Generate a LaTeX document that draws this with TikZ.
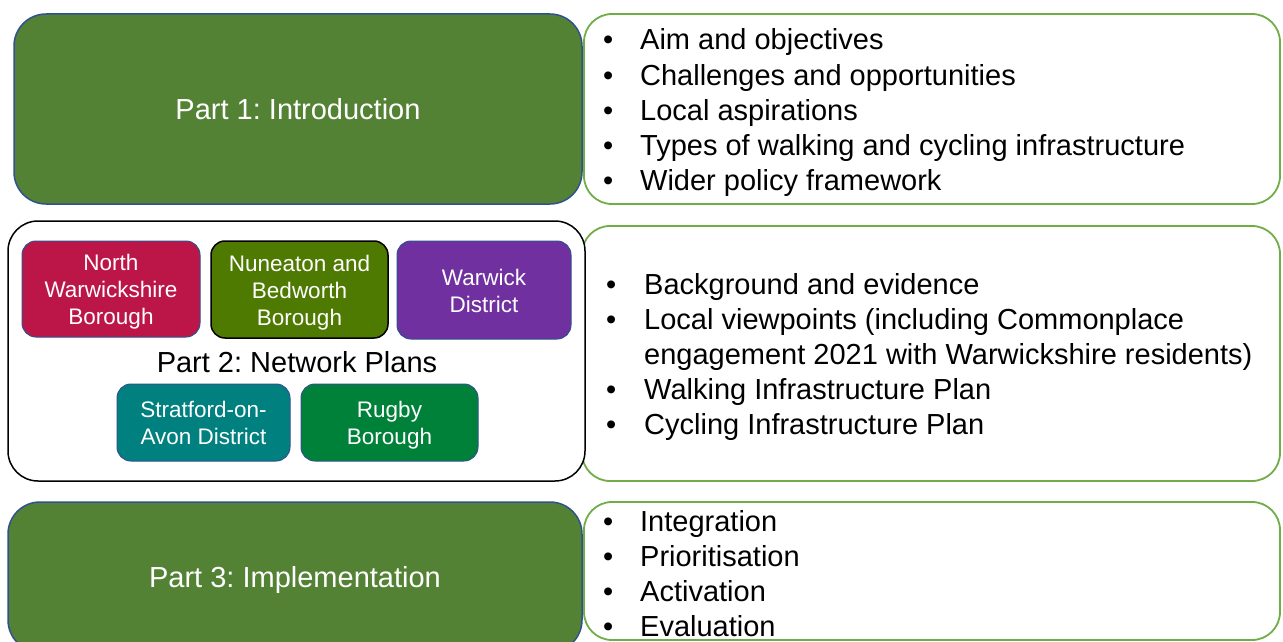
\documentclass[tikz,border=0pt]{standalone}
\usepackage{fontspec}
\setmainfont{Liberation Sans}
\frenchspacing
\definecolor{partgreen}{HTML}{548235}
\definecolor{partedge}{HTML}{2F528F}
\definecolor{listgreen}{HTML}{70AD47}
\definecolor{northred}{HTML}{BC1648}
\definecolor{nuneatongreen}{HTML}{4F7A02}
\definecolor{warwickpurple}{HTML}{7030A0}
\definecolor{stratfordteal}{HTML}{00807F}
\definecolor{rugbygreen}{HTML}{00813A}
\newcommand\listbullet[1]{\makebox[#1][l]{\textbullet}}
\newcommand\arealines[1]{\begin{tabular}{@{}c@{}}#1\end{tabular}}
\begin{document}
\begin{tikzpicture}[x=1pt,y=-1pt,
  bigfont/.style={font=\fontsize{29}{35}\selectfont},
  partbox/.style={draw=partedge, fill=partgreen, line width=1.5pt,
    rounded corners=32pt, inner sep=0pt, text=white, bigfont,
    text height=21pt, text depth=0pt},
  listbox/.style={draw=listgreen, fill=white, line width=1.8pt,
    rounded corners=28pt, inner sep=0pt},
  groupbox/.style={draw=black, fill=white, line width=1.5pt,
    rounded corners=30pt, inner sep=0pt},
  areabox/.style={draw=partedge, line width=1pt, rounded corners=14pt,
    inner sep=0pt},
  areatext/.style={inner sep=0pt, text=white,
    font=\fontsize{22.5}{27}\selectfont},
  item/.style={anchor=base west, inner sep=0pt, bigfont},
]
\useasboundingbox (0,0) rectangle (1283,642);

% right-hand content panels
\node[listbox, minimum width=696pt, minimum height=190pt] (list1) at (932,109) {};
\node[listbox, minimum width=698pt, minimum height=255pt] (list2) at (931,353.5) {};
\node[listbox, minimum width=696pt, minimum height=138pt] (list3) at (932,571) {};

% left-hand part headers
\node[partbox, minimum width=568pt, minimum height=190pt] (part1) at (298,109) {Part 1: Introduction};
\node[groupbox, minimum width=577pt, minimum height=260pt] (part2) at (296.5,351) {};
\node[partbox, minimum width=574pt, minimum height=150pt] (part3) at (295,577) {Part 3: Implementation};

% network plan areas
\node[areabox, fill=northred, minimum width=178pt, minimum height=96pt] (north) at (111,289) {};
\node[areabox, fill=nuneatongreen, draw=black, line width=1.5pt, minimum width=177pt, minimum height=97pt] (nuneaton) at (299.5,289.5) {};
\node[areabox, fill=warwickpurple, minimum width=174pt, minimum height=98pt] (warwick) at (484,290) {};
\node[areabox, fill=stratfordteal, minimum width=173pt, minimum height=77pt] (stratford) at (203.5,422.5) {};
\node[areabox, fill=rugbygreen, minimum width=177pt, minimum height=77pt] (rugby) at (389.5,422.5) {};

\node[areatext] (northtext) at ([yshift=-3.5pt]north.center) {\arealines{North\\Warwickshire\\Borough}};
\node[areatext] (nuneatontext) at ([yshift=-3.5pt]nuneaton.center) {\arealines{Nuneaton and\\Bedworth\\Borough}};
\node[areatext] (warwicktext) at ([yshift=-3.5pt]warwick.center) {\arealines{Warwick\\District}};
\node[areatext] (stratfordtext) at ([yshift=-3.5pt]stratford.center) {\arealines{Stratford-on-\\Avon District}};
\node[areatext] (rugbytext) at ([yshift=-3.5pt]rugby.center) {\arealines{Rugby\\Borough}};

\node[anchor=base, inner sep=0pt, bigfont] (part2label) at (297,372) {Part 2: Network Plans};

% Part 1 contents
\node[item] (aim) at (603,50) {\listbullet{37pt}Aim and objectives};
\node[item] (challenges) at (603,85) {\listbullet{37pt}Challenges and opportunities};
\node[item] (aspirations) at (603,120) {\listbullet{37pt}Local aspirations};
\node[item] (types) at (603,155) {\listbullet{37pt}Types of walking and cycling infrastructure};
\node[item] (policy) at (603,190) {\listbullet{37pt}Wider policy framework};

% Part 2 contents
\node[item] (background) at (606,294) {\listbullet{38pt}Background and evidence};
\node[item] (viewpoints) at (606,329) {\listbullet{38pt}Local viewpoints (including Commonplace};
\node[item] (viewpoints2) at (644,364) {engagement 2021 with Warwickshire residents)};
\node[item] (walking) at (606,399) {\listbullet{38pt}Walking Infrastructure Plan};
\node[item] (cycling) at (606,434) {\listbullet{38pt}Cycling Infrastructure Plan};

% Part 3 contents
\node[item] (integration) at (603,531) {\listbullet{37pt}Integration};
\node[item] (prioritisation) at (603,566) {\listbullet{37pt}Prioritisation};
\node[item] (activation) at (603,601) {\listbullet{37pt}Activation};
\node[item] (evaluation) at (603,636) {\listbullet{37pt}Evaluation};
\end{tikzpicture}
\end{document}
